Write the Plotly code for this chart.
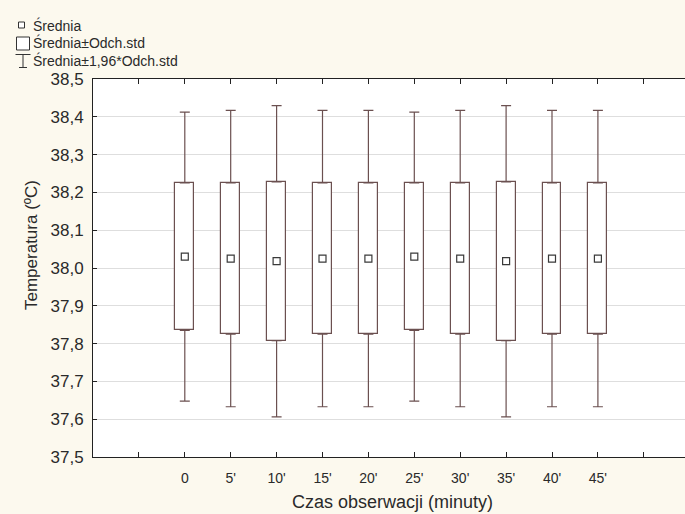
import plotly.graph_objects as go

# ---- data ----
categories = ["0", "5'", "10'", "15'", "20'", "25'", "30'", "35'", "40'", "45'"]
means = [38.03, 38.025, 38.018, 38.025, 38.025, 38.03, 38.025, 38.018, 38.025, 38.025]
sds = [0.195, 0.20, 0.21, 0.20, 0.20, 0.195, 0.20, 0.21, 0.20, 0.20]
y_ticks = [37.5, 37.6, 37.7, 37.8, 37.9, 38.0, 38.1, 38.2, 38.3, 38.4, 38.5]
y_ticktext = [f"{v:.1f}".replace(".", ",") for v in y_ticks]

xs = list(range(len(categories)))
z = 1.96

W, H = 685, 514
ML, MR, MT, MB = 93, 0, 79, 57
PW, PH = W - ML - MR, H - MT - MB

BOX_COL = "#6b5050"
MEAN_COL = "#3a3a3a"
TXT = "#2a2a2a"
FONT = "Liberation Sans, Arial, sans-serif"

fig = go.Figure()

# boxes: mean +/- sd
fig.add_trace(go.Bar(
    x=xs,
    y=[2 * s for s in sds],
    base=[m - s for m, s in zip(means, sds)],
    width=0.41,
    marker=dict(color="white", line=dict(color=BOX_COL, width=1.2)),
    showlegend=False, hoverinfo="skip",
))

# upper whiskers
fig.add_trace(go.Scatter(
    x=xs, y=[m + s for m, s in zip(means, sds)], mode="markers",
    marker=dict(size=1, color="rgba(0,0,0,0)"),
    error_y=dict(type="data", symmetric=False,
                 array=[(z - 1) * s for s in sds], arrayminus=[0] * len(sds),
                 color=BOX_COL, thickness=1.2, width=5),
    showlegend=False, hoverinfo="skip",
))
# lower whiskers
fig.add_trace(go.Scatter(
    x=xs, y=[m - s for m, s in zip(means, sds)], mode="markers",
    marker=dict(size=1, color="rgba(0,0,0,0)"),
    error_y=dict(type="data", symmetric=False,
                 array=[0] * len(sds), arrayminus=[(z - 1) * s for s in sds],
                 color=BOX_COL, thickness=1.2, width=5),
    showlegend=False, hoverinfo="skip",
))
# means
fig.add_trace(go.Scatter(
    x=xs, y=means, mode="markers",
    marker=dict(symbol="square-open", size=7, color=MEAN_COL, line=dict(width=1.2)),
    showlegend=False, hoverinfo="skip",
))

tickvals = [-1] + xs + [len(xs)]
ticktext = [""] + categories + [""]

fig.update_xaxes(
    range=[-2, -2 + PW / 45.9],
    tickvals=tickvals, ticktext=ticktext,
    ticks="inside", ticklen=5, tickcolor="#222",
    showline=True, linecolor="#222", linewidth=1, mirror="ticks",
    showgrid=False, zeroline=False, ticklabelstandoff=8,
    tickfont=dict(family=FONT, size=14, color=TXT),
)
fig.update_yaxes(
    range=[37.5, 38.5],
    tickvals=y_ticks, ticktext=y_ticktext,
    ticks="inside", ticklen=4, tickcolor="#222",
    showline=True, linecolor="#222", linewidth=1, mirror=False,
    showgrid=True, gridcolor="#dedede", gridwidth=1, zeroline=False,
    ticklabelstandoff=5,
    tickfont=dict(family=FONT, size=17, color=TXT),
)

def px(xp):
    return (xp - ML) / PW

def py(yp):
    return (H - MB - yp) / PH

shapes = []
annotations = []
# legend symbols
shapes.append(dict(type="rect", xref="paper", yref="paper",
                   x0=px(18.5), x1=px(24.5), y0=py(28), y1=py(22),
                   line=dict(color="#333", width=1), fillcolor="white"))
shapes.append(dict(type="rect", xref="paper", yref="paper",
                   x0=px(16.5), x1=px(29.5), y0=py(50), y1=py(37),
                   line=dict(color="#333", width=1), fillcolor="white"))
shapes.append(dict(type="line", xref="paper", yref="paper",
                   x0=px(15.5), x1=px(30.5), y0=py(54.5), y1=py(54.5),
                   line=dict(color="#333", width=1)))
shapes.append(dict(type="line", xref="paper", yref="paper",
                   x0=px(23), x1=px(23), y0=py(54.5), y1=py(67.5),
                   line=dict(color="#333", width=1)))
shapes.append(dict(type="line", xref="paper", yref="paper",
                   x0=px(19), x1=px(27), y0=py(67.5), y1=py(67.5),
                   line=dict(color="#333", width=1)))

legend_items = ["Średnia", "Średnia±Odch.std", "Średnia±1,96*Odch.std"]
legend_y = [25, 43, 60]
for t, yy in zip(legend_items, legend_y):
    annotations.append(dict(text=t, xref="paper", yref="paper", x=px(31), y=py(yy),
                            xanchor="left", yanchor="middle", showarrow=False,
                            font=dict(family=FONT, size=14, color=TXT)))

# axis titles
annotations.append(dict(text="Czas obserwacji (minuty)", xref="paper", yref="paper",
                        x=px(392), y=py(502), xanchor="center", yanchor="middle",
                        showarrow=False, font=dict(family=FONT, size=18, color=TXT)))
annotations.append(dict(text="Temperatura (ºC)", xref="paper", yref="paper",
                        x=px(31), y=py(245), xanchor="center", yanchor="middle",
                        textangle=-90, showarrow=False,
                        font=dict(family=FONT, size=17, color=TXT)))

fig.update_layout(
    width=W, height=H,
    margin=dict(l=ML, r=MR, t=MT, b=MB, pad=0),
    paper_bgcolor="#fcf9ee", plot_bgcolor="white",
    shapes=shapes, annotations=annotations,
    showlegend=False, bargap=0,
)

fig.write_html("out.html")
